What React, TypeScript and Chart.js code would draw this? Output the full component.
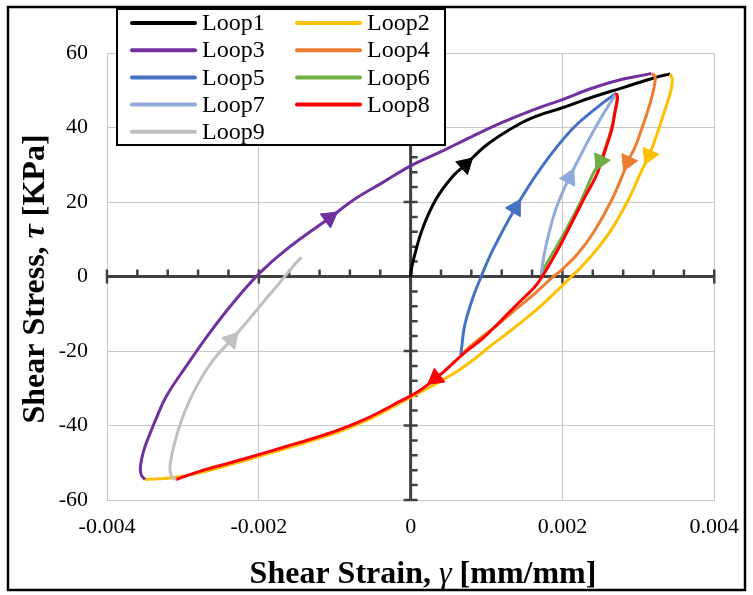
import React, { useEffect, useRef } from 'react';
import { Chart, registerables } from 'chart.js';

Chart.register(...registerables);

// Axis ranges and tick values
const strainTicks = [-0.004, -0.002, 0, 0.002, 0.004];
const stressTicks = [-60, -40, -20, 0, 20, 40, 60];
const strainMinorStep = 0.0004;
const stressMinorStep = 4;

const loopNames = ['Loop1', 'Loop2', 'Loop3', 'Loop4', 'Loop5', 'Loop6', 'Loop7', 'Loop8', 'Loop9'];
const loopColors = ['#000000', '#FFC000', '#7030A0', '#ED7D31', '#4472C4', '#70AD47', '#8FAADC', '#FF0000', '#BFBFBF'];

// Shear strain (mm/mm) and shear stress (KPa) for each loading loop
const loop1Strain = [0, 0.00002, 0.00005, 0.00015, 0.00033, 0.00055, 0.00072, 0.001, 0.0013, 0.0016, 0.002, 0.0024, 0.0028, 0.0032, 0.00342];
const loop1Stress = [0, 3, 5.5, 12.5, 20.6, 26.8, 30, 35.3, 39.4, 42.6, 45.3, 48.2, 50.7, 53.3, 54.4];

const loop2Strain = [0.00342, 0.003445, 0.00344, 0.00341, 0.00335, 0.00328, 0.00322, 0.00314, 0.00303, 0.00289, 0.00267, 0.00245, 0.00226, 0.00212, 0.00192, 0.00172, 0.0015, 0.00125, 0.00103, 0.00085, 0.00066, 0.00046, 0.00026, 0.00006, -0.00015, -0.00037, -0.00059, -0.00081, -0.00103, -0.00147, -0.0019, -0.00234, -0.00278, -0.00313, -0.0035];
const loop2Stress = [54.4, 53.2, 51, 48.5, 44.7, 40.3, 36.7, 32.5, 27.8, 21.5, 13.4, 7.2, 2.8, 0, -4, -7.8, -11.6, -15.6, -19, -22, -24.8, -27.3, -29.6, -31.8, -34.1, -36.5, -38.7, -40.6, -42.3, -45.1, -47.7, -50.3, -52.7, -54, -54.5];

const loop3Strain = [-0.0035, -0.00355, -0.00356, -0.00352, -0.00345, -0.00335, -0.00322, -0.00296, -0.00265, -0.00234, -0.00199, -0.00164, -0.00107, -0.00072, -0.00037, 0, 0.0004, 0.0008, 0.0012, 0.0016, 0.002, 0.0024, 0.0028, 0.0031, 0.00317];
const loop3Stress = [-54.5, -53.2, -51, -47, -43, -38, -32.2, -24.2, -15.2, -7.1, 0.9, 7.2, 15.7, 21, 25.2, 29.7, 33.5, 37.5, 41.3, 44.6, 47.5, 50.6, 53, 54.2, 54.5];

const loop4Strain = [0.00317, 0.00322, 0.0032, 0.00313, 0.00304, 0.00296, 0.00286, 0.00282, 0.00265, 0.00243, 0.00221, 0.00199, 0.00186, 0.00164, 0.00138, 0.00112, 0.00086, 0.00066];
const loop4Stress = [54.5, 53.7, 50.1, 44.8, 39.4, 34.9, 30.8, 28.6, 20.6, 12.5, 6.3, 1.8, -0.4, -4.5, -8.9, -13.4, -17.5, -21];

const loop5Strain = [0.00066, 0.00067, 0.00071, 0.00081, 0.00093, 0.00108, 0.00138, 0.00173, 0.00212, 0.00247, 0.00271];
const loop5Stress = [-21, -19.5, -13.4, -6.3, 0, 7, 18.4, 29.5, 39.4, 45.6, 49.2];

const loop6Strain = [0.00271, 0.00272, 0.00269, 0.00264, 0.00257, 0.0025, 0.0024, 0.00225, 0.00207, 0.00191, 0.00177, 0.00172];
const loop6Stress = [49.2, 47.9, 43.9, 39.4, 34.9, 31, 27.5, 20.5, 13.4, 7.6, 2.7, 0.3];

const loop7Strain = [0.00172, 0.00174, 0.00178, 0.00184, 0.00192, 0.00201, 0.00209, 0.0023, 0.00252, 0.00271];
const loop7Stress = [0.3, 3.5, 8, 13, 18.5, 23, 26.5, 34.9, 43, 49.2];

const loop8Strain = [0.00271, 0.002726, 0.00269, 0.00265, 0.00258, 0.00251, 0.00244, 0.0023, 0.00212, 0.00195, 0.00177, 0.00164, 0.00142, 0.00116, 0.00094, 0.00072, 0.00042, 0.00033, 0.0001, -0.00015, -0.00037, -0.00059, -0.00081, -0.00103, -0.00147, -0.0019, -0.00234, -0.00278, -0.00309];
const loop8Stress = [49.2, 47.9, 43.9, 39.4, 34.9, 30.6, 26.8, 21.5, 14.3, 7.6, 1.2, -2.7, -7.1, -12.5, -16.8, -20.3, -25.9, -27.3, -30.9, -33.6, -36, -38.2, -40.1, -41.8, -44.6, -47.2, -49.8, -52.3, -54.5];

const loop9Strain = [-0.00309, -0.00315, -0.00317, -0.00311, -0.003, -0.00282, -0.0026, -0.00236, -0.00217, -0.00195, -0.00173, -0.00155, -0.00144];
const loop9Stress = [-54.5, -53.7, -51, -44.7, -37.6, -29.5, -22.4, -17, -12.5, -7.1, -1.8, 2.7, 5.2];

// Index of the point carrying the direction arrow on each loop
const arrowPoints = [6, 7, 12, 6, 6, 5, 6, 17, 7];

const strainSeries = [loop1Strain, loop2Strain, loop3Strain, loop4Strain, loop5Strain, loop6Strain, loop7Strain, loop8Strain, loop9Strain];
const stressSeries = [loop1Stress, loop2Stress, loop3Stress, loop4Stress, loop5Stress, loop6Stress, loop7Stress, loop8Stress, loop9Stress];

const SERIF = '"Liberation Serif", "Times New Roman", serif';

type Part = { text: string; font: string };

function drawParts(ctx: CanvasRenderingContext2D, parts: Part[], cx: number, baseline: number) {
  let total = 0;
  const widths = parts.map((p) => {
    ctx.font = p.font;
    const w = ctx.measureText(p.text).width;
    total += w;
    return w;
  });
  let x = cx - total / 2;
  ctx.textAlign = 'left';
  ctx.textBaseline = 'alphabetic';
  parts.forEach((p, i) => {
    ctx.font = p.font;
    ctx.fillText(p.text, x, baseline);
    x += widths[i];
  });
}

// Heavy axes through the origin with minor/major tick marks
const zeroAxesPlugin = {
  id: 'zeroAxes',
  beforeDatasetsDraw(chart: any) {
    const { ctx } = chart;
    const xs = chart.scales.x;
    const ys = chart.scales.y;
    const x0 = xs.getPixelForValue(0);
    const y0 = ys.getPixelForValue(0);
    const xL = xs.getPixelForValue(strainTicks[0]);
    const xR = xs.getPixelForValue(strainTicks[strainTicks.length - 1]);
    const yB = ys.getPixelForValue(stressTicks[0]);
    const yT = ys.getPixelForValue(stressTicks[stressTicks.length - 1]);
    ctx.save();
    ctx.strokeStyle = '#404040';
    ctx.lineWidth = 3;
    ctx.beginPath();
    ctx.moveTo(xL, y0);
    ctx.lineTo(xR, y0);
    ctx.moveTo(x0, yB);
    ctx.lineTo(x0, yT);
    ctx.stroke();
    ctx.lineWidth = 2.5;
    ctx.beginPath();
    const nx = Math.round((strainTicks[strainTicks.length - 1] - strainTicks[0]) / strainMinorStep);
    for (let k = 0; k <= nx; k++) {
      const v = strainTicks[0] + k * strainMinorStep;
      const px = xs.getPixelForValue(v);
      if (k % 5 === 0) {
        ctx.moveTo(px, y0 - 7);
        ctx.lineTo(px, y0 + 7);
      } else {
        ctx.moveTo(px, y0);
        ctx.lineTo(px, y0 - 7);
      }
    }
    const ny = Math.round((stressTicks[stressTicks.length - 1] - stressTicks[0]) / stressMinorStep);
    for (let k = 0; k <= ny; k++) {
      const v = stressTicks[0] + k * stressMinorStep;
      const py = ys.getPixelForValue(v);
      if (k % 5 === 0) {
        ctx.moveTo(x0 - 7, py);
        ctx.lineTo(x0 + 7, py);
      } else {
        ctx.moveTo(x0, py);
        ctx.lineTo(x0 + 7, py);
      }
    }
    ctx.stroke();
    ctx.restore();
  },
};

// Axis titles, legend box and outer frame
const decorPlugin = {
  id: 'decor',
  afterDraw(chart: any) {
    const { ctx } = chart;
    ctx.save();
    ctx.fillStyle = '#000';
    drawParts(
      ctx,
      [
        { text: 'Shear Strain, ', font: `bold 32px ${SERIF}` },
        { text: 'γ', font: `italic 32px ${SERIF}` },
        { text: ' [mm/mm]', font: `bold 32px ${SERIF}` },
      ],
      423,
      583
    );
    ctx.save();
    ctx.translate(44, 279);
    ctx.rotate(-Math.PI / 2);
    drawParts(
      ctx,
      [
        { text: 'Shear Stress, ', font: `bold 32px ${SERIF}` },
        { text: 'τ', font: `italic bold 32px ${SERIF}` },
        { text: ' [KPa]', font: `bold 32px ${SERIF}` },
      ],
      0,
      0
    );
    ctx.restore();

    ctx.fillStyle = '#fff';
    ctx.fillRect(117, 9, 328, 136);
    ctx.strokeStyle = '#000';
    ctx.lineWidth = 2;
    ctx.strokeRect(117, 9, 328, 136);
    ctx.font = `24px ${SERIF}`;
    ctx.textBaseline = 'middle';
    ctx.textAlign = 'left';
    loopNames.forEach((name, i) => {
      const col = i % 2;
      const row = Math.floor(i / 2);
      const lx = col === 0 ? 132 : 297;
      const ty = 23 + row * 27.2;
      ctx.strokeStyle = loopColors[i];
      ctx.lineWidth = 4;
      ctx.lineCap = 'round';
      ctx.beginPath();
      ctx.moveTo(lx, ty);
      ctx.lineTo(lx + 63, ty);
      ctx.stroke();
      ctx.fillStyle = '#000';
      ctx.fillText(name, lx + 70, ty + 1);
    });

    ctx.strokeStyle = '#000';
    ctx.lineWidth = 2.5;
    ctx.strokeRect(8, 7, 737, 583);
    ctx.restore();
  },
};

export default function App() {
  const canvasRef = useRef<HTMLCanvasElement | null>(null);

  useEffect(() => {
    const canvas = canvasRef.current;
    if (!canvas) return;

    const loopPoints = loopNames.map((_, li) => strainSeries[li].map((x, i) => ({ x, y: stressSeries[li][i] })));

    const lineSets = loopNames.map((name, li) => ({
      label: name,
      data: loopPoints[li],
      showLine: true,
      borderColor: loopColors[li],
      backgroundColor: loopColors[li],
      borderWidth: 3,
      tension: 0.4,
      fill: false,
      order: loopNames.length - li,
      pointRadius: 0,
      pointHoverRadius: 0,
    }));

    // Direction arrows sit on top of every loop line
    const arrowSets = loopNames.map((name, li) => {
      const pts = loopPoints[li];
      const i = arrowPoints[li];
      return {
        label: name + ' direction',
        data: [pts[i]],
        showLine: false,
        order: 0,
        pointStyle: 'triangle',
        pointRadius: 10,
        pointHoverRadius: 10,
        pointBorderWidth: 1,
        pointBorderColor: loopColors[li],
        pointBackgroundColor: loopColors[li],
        pointRotation: (c: any) => {
          const xs = c.chart.scales.x;
          const ys = c.chart.scales.y;
          if (!xs || !ys) return 0;
          const a = pts[Math.max(0, i - 1)];
          const b = pts[Math.min(pts.length - 1, i + 1)];
          const dx = xs.getPixelForValue(b.x) - xs.getPixelForValue(a.x);
          const dy = ys.getPixelForValue(b.y) - ys.getPixelForValue(a.y);
          return (Math.atan2(dx, -dy) * 180) / Math.PI;
        },
      };
    });

    const chart = new Chart(canvas, {
      type: 'scatter',
      data: { datasets: [...lineSets, ...arrowSets] as any },
      plugins: [zeroAxesPlugin, decorPlugin],
      options: {
        responsive: false,
        animation: false,
        layout: { padding: { top: 53, right: 37, left: 0, bottom: 0 } },
        plugins: {
          legend: { display: false },
          tooltip: { enabled: false },
        },
        scales: {
          x: {
            type: 'linear',
            min: strainTicks[0],
            max: strainTicks[strainTicks.length - 1],
            afterBuildTicks: (s: any) => {
              s.ticks = strainTicks.map((value) => ({ value }));
            },
            afterFit: (s: any) => {
              s.height = 95;
            },
            grid: { color: '#c8c8c8', lineWidth: 1, drawTicks: false },
            border: { display: true, color: '#c8c8c8', width: 1 },
            ticks: {
              padding: 14,
              color: '#000',
              font: { family: SERIF, size: 22 },
              callback: (v: any) => (Math.abs(Number(v)) < 1e-12 ? '0' : Number(v).toFixed(3)),
            },
          },
          y: {
            type: 'linear',
            min: stressTicks[0],
            max: stressTicks[stressTicks.length - 1],
            afterBuildTicks: (s: any) => {
              s.ticks = stressTicks.map((value) => ({ value }));
            },
            afterFit: (s: any) => {
              s.width = 107;
            },
            grid: { color: '#c8c8c8', lineWidth: 1, drawTicks: false },
            border: { display: true, color: '#c8c8c8', width: 1 },
            ticks: {
              padding: 19,
              color: '#000',
              font: { family: SERIF, size: 22 },
              callback: (v: any) => String(v),
            },
          },
        },
      },
    });

    return () => chart.destroy();
  }, []);

  return (
    <div style={{ position: 'fixed', left: 0, top: 0, width: 753, height: 595, background: '#fff' }}>
      <canvas ref={canvasRef} width={753} height={595} style={{ display: 'block', width: 753, height: 595 }} />
    </div>
  );
}
